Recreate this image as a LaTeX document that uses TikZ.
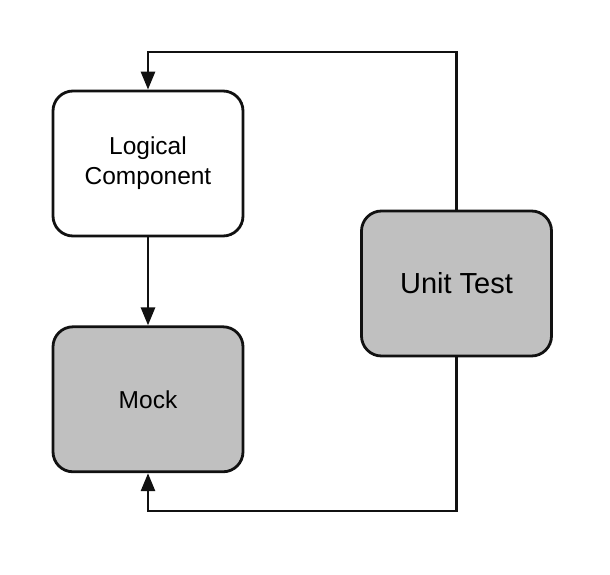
\documentclass[tikz,border=0pt]{standalone}
\usepackage{fontspec}
\setmainfont{Liberation Sans}
\usetikzlibrary{arrows.meta, positioning}
\definecolor{boxgray}{HTML}{C0C0C0}
\definecolor{inkline}{HTML}{111111}
\tikzset{
	partbox/.style={draw=inkline, line width=2.8pt, rounded corners=20pt,
		minimum width=190pt, minimum height=145pt, align=center,
		font=\fontsize{24.5}{30}\selectfont}
}
\tikzset{
	flow/.style={draw=inkline, line width=2.8pt,
		-{Triangle[width=14pt,length=18pt]}}
}

\begin{document}
\begin{tikzpicture}[x=1pt,y=-1pt]
      \useasboundingbox (0,0) rectangle (610,575);
      \node[partbox, fill=white] (logic) at (148,163.5) {Logical\\Component};
      \node[partbox, fill=boxgray, below=88pt of logic] (mock) {Mock};
      \node[partbox, fill=boxgray, font=\fontsize{29}{34}\selectfont] (unit) at (456.5,283.5) {Unit Test};
      \coordinate (topturn) at (456.5,52);
      \coordinate (bottomturn) at (456.5,511);
      \draw[flow] (logic) -- (mock);
      \draw[flow] (unit.north) -- (topturn) -| (logic.north);
      \draw[flow] (unit.south) -- (bottomturn) -| (mock.south);
    \end{tikzpicture}
\end{document}
